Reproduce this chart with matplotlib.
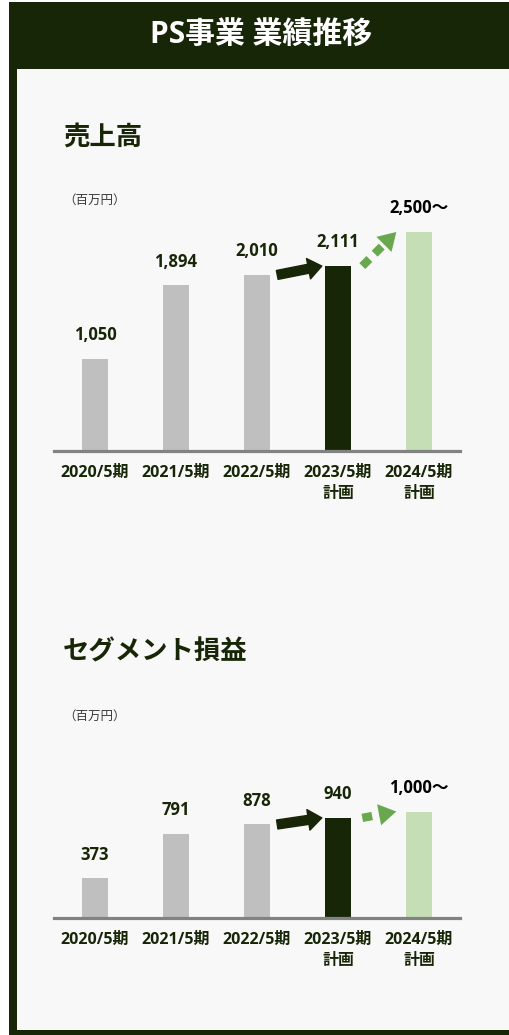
import matplotlib.pyplot as plt
from matplotlib.patches import Rectangle

plt.rcParams['font.family'] = ['Open Sans', 'Noto Sans CJK JP', 'DejaVu Sans']

W, H = 509, 1035

periods = ['2020/5期', '2021/5期', '2022/5期', '2023/5期\n計画', '2024/5期\n計画']
sales = [1050, 1894, 2010, 2111, 2500]
sales_labels = ['1,050', '1,894', '2,010', '2,111', '2,500～']
segment = [373, 791, 878, 940, 1000]
segment_labels = ['373', '791', '878', '940', '1,000～']

DARK = '#172606'
GRAY = '#bfbfbf'
LIGHT = '#c5deb5'
ARROW_G = '#6aa84f'
AXIS = '#828282'
bar_colors = [GRAY, GRAY, GRAY, DARK, LIGHT]


def fx(px):
    return px / W


def fy(py):
    return 1 - py / H


fig = plt.figure(figsize=(W / 100, H / 100), dpi=100)
fig.patch.set_facecolor('white')

# frame + header
fig.patches.append(Rectangle((fx(9), fy(1035)), fx(500), 1033 / H, transform=fig.transFigure,
                             facecolor=DARK, edgecolor='none', zorder=-2))
fig.patches.append(Rectangle((fx(17), fy(1030)), fx(492), 961 / H, transform=fig.transFigure,
                             facecolor='#f8f8f8', edgecolor='none', zorder=-1))
fig.text(fx(261), fy(35), 'PS事業 業績推移', color='white', fontsize=21.5, fontweight='bold',
         ha='center', va='center')


def draw_chart(top_px, base_px, scale, title, title_y, unit_y, values, labels):
    fig.text(fx(63), fy(title_y), title, color=DARK, fontsize=19, fontweight='bold',
             ha='left', va='center')
    fig.text(fx(63), fy(unit_y), '（百万円）', color='#3a3a3a', fontsize=9,
             family=['Noto Sans CJK JP'], ha='left', va='center')

    ax = fig.add_axes([fx(54.5), fy(base_px), fx(405), (base_px - top_px) / H])
    ax.set_zorder(2)
    ax.patch.set_visible(False)
    x = list(range(len(values)))
    ax.bar(x, values, width=0.33, color=bar_colors, zorder=2)
    ax.set_xlim(-0.5, 4.5)
    ax.set_ylim(0, (base_px - top_px) / scale)
    for s in ['top', 'right', 'left']:
        ax.spines[s].set_visible(False)
    ax.spines['bottom'].set_color(AXIS)
    ax.spines['bottom'].set_linewidth(2.3)
    ax.spines['bottom'].set_zorder(3)
    ax.set_yticks([])
    ax.set_xticks(x)
    ax.set_xticklabels(periods, fontsize=11.5, fontweight='bold', color=DARK, linespacing=1.45)
    ax.tick_params(axis='x', length=0, pad=10)

    for i, (v, lab) in enumerate(zip(values, labels)):
        ax.annotate(lab, (i, v), xytext=(0, 10.5), textcoords='offset points',
                    ha='center', va='bottom', fontsize=12, fontweight='bold',
                    color='black' if i == 4 else DARK)

    # solid arrow 2022 -> 2023
    ax.annotate('', xy=(3 - 0.2, values[3]), xytext=(2 + 0.25, values[2]),
                arrowprops=dict(arrowstyle='simple,head_length=0.75,head_width=1.15,tail_width=0.5',
                                mutation_scale=13, color=DARK, shrinkA=0, shrinkB=0),
                zorder=4)
    # dotted arrow 2023 -> 2024
    x0, y0 = 3.3, values[3]
    x1, y1 = 3.72, values[4]
    xm, ym = x0 + (x1 - x0) * 0.62, y0 + (y1 - y0) * 0.62
    ax.plot([x0, xm], [y0, ym], color=ARROW_G, lw=6, solid_capstyle='butt',
            dash_capstyle='butt', linestyle=(0, (1.2, 0.9)), zorder=4)
    ax.annotate('', xy=(x1, y1), xytext=(xm, ym),
                arrowprops=dict(arrowstyle='simple,head_length=0.9,head_width=1.1,tail_width=0.01',
                                mutation_scale=14, color=ARROW_G, shrinkA=0, shrinkB=0, lw=0),
                zorder=4)
    return ax


draw_chart(180, 451, 0.0876, '売上高', 137, 200, sales, sales_labels)
draw_chart(700, 918, 0.1065, 'セグメント損益', 652, 716, segment, segment_labels)

fig.savefig('out.png', dpi=100, facecolor=fig.get_facecolor())
